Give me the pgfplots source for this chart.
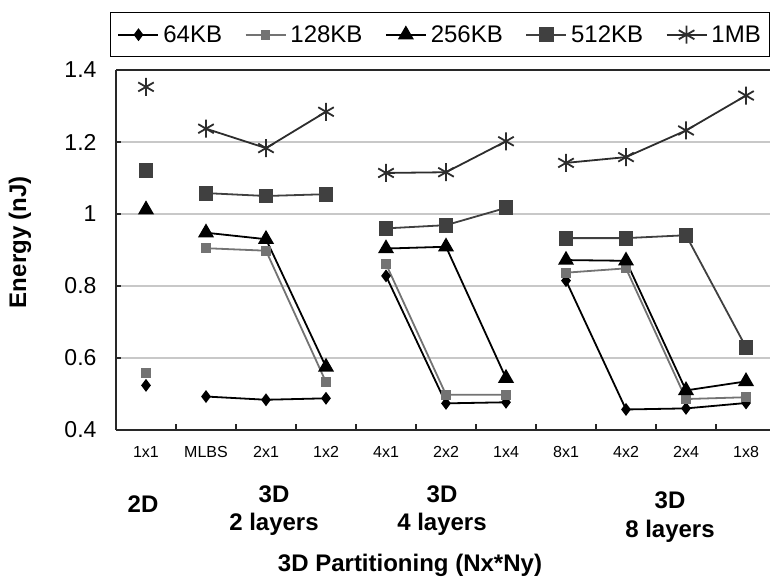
\documentclass[border=0pt]{standalone}
\usepackage{fontspec}
\setmainfont{Liberation Sans}
\usepackage{pgfplots}
\usepackage{pgfplotstable}
\pgfplotsset{compat=1.18}
\definecolor{cA}{RGB}{0,0,0}
\definecolor{cB}{RGB}{115,115,115}
\definecolor{cC}{RGB}{0,0,0}
\definecolor{cD}{RGB}{64,64,64}
\definecolor{cE}{RGB}{45,45,45}
\definecolor{gridc}{RGB}{200,200,200}
\definecolor{axc}{RGB}{40,40,40}

\pgfplotstableread{
x     k64   k128  k256  k512  m1
0     0.524 0.558 1.012 1.121 1.353
0.5   nan   nan   nan   nan   nan
1     0.493 0.905 0.948 1.058 1.237
2     0.484 0.898 0.930 1.050 1.183
3     0.488 0.533 0.575 1.055 1.284
3.5   nan   nan   nan   nan   nan
4     0.828 0.861 0.904 0.960 1.114
5     0.474 0.498 0.909 0.969 1.116
6     0.477 0.498 0.544 1.017 1.202
6.5   nan   nan   nan   nan   nan
7     0.815 0.837 0.872 0.933 1.142
8     0.457 0.849 0.870 0.933 1.158
9     0.460 0.486 0.510 0.941 1.232
10    0.475 0.491 0.535 0.630 1.329
}\energy

\begin{document}
\begin{tikzpicture}[x=1pt,y=1pt]
\begin{axis}[
  at={(116pt,148pt)}, anchor=south west,
  scale only axis, width=660pt, height=360pt,
  xmin=-0.5, xmax=10.5, ymin=0.4, ymax=1.4,
  axis x line*=box, axis y line*=left,
  axis line style={draw=axc, line width=1.6pt},
  unbounded coords=jump,
  xtick={0,...,10},
  xticklabels={1x1,MLBS,2x1,1x2,4x1,2x2,1x4,8x1,4x2,2x4,1x8},
  major x tick style={draw=none},
  minor xtick={0.5,1.5,...,9.5},
  minor x tick style={draw=axc, line width=1.2pt},
  minor tick length=6pt,
  xtick pos=bottom, ytick pos=left,
  xticklabel style={font=\fontsize{16}{19}\selectfont, yshift=-13pt},
  ytick={0.4,0.6,...,1.4},
  yticklabels={0.4,0.6,0.8,1,1.2,1.4},
  yticklabel style={font=\fontsize{23}{27}\selectfont, xshift=-16pt},
  major y tick style={draw=axc, line width=1.2pt},
  major tick length=5pt,
  ymajorgrids, grid style={draw=gridc, line width=1.2pt},
  legend columns=5,
  legend style={at={(-0.00909,1.1611)}, anchor=north west,
    draw=black, line width=1.2pt,
    font=\fontsize{24}{28}\selectfont,
    inner xsep=7pt, inner ysep=11pt,
    nodes={inner sep=2pt},
    /tikz/every odd column/.append style={column sep=2pt},
    /tikz/every even column/.append style={column sep=20.5pt}},
  legend image code/.code={\draw[mark repeat=2,mark phase=2] plot coordinates {(0pt,0pt)(20pt,0pt)(40pt,0pt)};},
]
\addplot[cA, line width=1.8pt, mark=diamond*, mark size=5pt, mark options={solid, fill=cA}] table[x=x,y=k64] {\energy};
\addlegendentry{64KB}
\addplot[cB, line width=1.8pt, mark=square*, mark size=4pt, mark options={solid, fill=cB}] table[x=x,y=k128] {\energy};
\addlegendentry{128KB}
\addplot[cC, line width=1.8pt, mark=triangle*, mark size=7.5pt, mark options={solid, fill=cC}] table[x=x,y=k256] {\energy};
\addlegendentry{256KB}
\addplot[cD, line width=1.8pt, mark=square*, mark size=6.5pt, mark options={solid, fill=cD}] table[x=x,y=k512] {\energy};
\addlegendentry{512KB}
\addplot[cE, line width=1.8pt, mark=asterisk, mark size=9pt, mark options={solid, line width=1.8pt}] table[x=x,y=m1] {\energy};
\addlegendentry{1MB}
\end{axis}
\node[anchor=base, font=\bfseries\fontsize{24}{28}\selectfont] at (143,66) {2D};
\node[anchor=base, font=\bfseries\fontsize{24}{28}\selectfont] at (274,76) {3D};
\node[anchor=base, font=\bfseries\fontsize{24}{28}\selectfont] at (274,48) {2 layers};
\node[anchor=base, font=\bfseries\fontsize{24}{28}\selectfont] at (442,76) {3D};
\node[anchor=base, font=\bfseries\fontsize{24}{28}\selectfont] at (442,48) {4 layers};
\node[anchor=base, font=\bfseries\fontsize{24}{28}\selectfont] at (670,70) {3D};
\node[anchor=base, font=\bfseries\fontsize{24}{28}\selectfont] at (670,41) {8 layers};
\node[anchor=base, font=\bfseries\fontsize{24}{28}\selectfont] at (410,7) {3D Partitioning (Nx*Ny)};
\node[rotate=90, font=\bfseries\fontsize{24}{28}\selectfont] at (20,336) {Energy (nJ)};
\pgfresetboundingbox
\path[use as bounding box] (0,0) rectangle (770,578);
\end{tikzpicture}
\end{document}
